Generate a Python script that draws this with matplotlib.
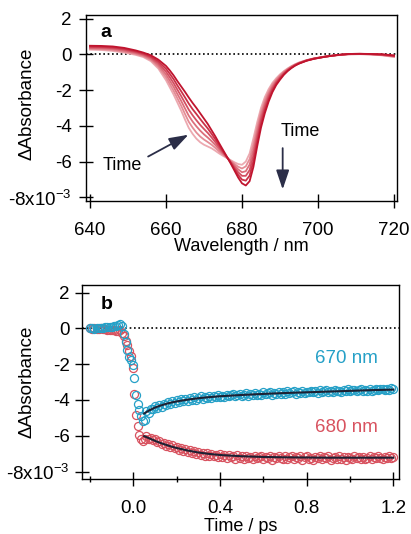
import numpy as np
import matplotlib
matplotlib.use("Agg")
import matplotlib.pyplot as plt

plt.rcParams['font.family'] = ['Liberation Sans', 'DejaVu Sans']
plt.rcParams['mathtext.fontset'] = 'custom'
plt.rcParams['mathtext.rm'] = 'Liberation Sans'
plt.rcParams['font.size'] = 13

# ---------------- Panel a data: transient spectra ----------------
wavelength = [640, 643, 646, 649, 652, 654, 656, 658,
              660, 661, 662, 663, 664, 665, 666, 667, 668, 669, 670, 671, 672, 673, 674, 675,
              676, 677, 678, 679, 680, 681, 682, 683, 684, 685, 686, 687, 688, 689, 690, 691,
              692, 693, 694, 695, 697, 699, 702, 705, 708, 711, 714, 717, 720]

spec1 = [0.26, 0.24, 0.19, 0.10, -0.03, -0.15, -0.38, -0.80,
         -1.45, -1.85, -2.25, -2.70, -3.15, -3.65, -4.12, -4.45, -4.72, -4.92, -5.06, -5.16, -5.26, -5.40, -5.55, -5.68,
         -5.80, -5.92, -6.04, -6.14, -6.18, -6.00, -5.55, -4.70, -3.80, -3.00, -2.40, -1.95, -1.60, -1.34, -1.12, -0.94,
         -0.79, -0.66, -0.55, -0.46, -0.32, -0.22, -0.12, -0.05, 0.00, 0.01, -0.01, -0.06, -0.15]
spec2 = [0.30, 0.29, 0.24, 0.15, 0.02, -0.10, -0.31, -0.70,
         -1.29, -1.66, -2.04, -2.46, -2.88, -3.34, -3.78, -4.10, -4.38, -4.60, -4.77, -4.91, -5.06, -5.24, -5.44, -5.61,
         -5.78, -5.96, -6.13, -6.29, -6.39, -6.27, -5.86, -5.02, -4.07, -3.22, -2.58, -2.09, -1.70, -1.42, -1.18, -0.98,
         -0.82, -0.68, -0.57, -0.47, -0.33, -0.23, -0.12, -0.05, 0.00, 0.01, 0.00, -0.05, -0.13]
spec3 = [0.35, 0.33, 0.29, 0.20, 0.07, -0.05, -0.25, -0.60,
         -1.13, -1.47, -1.82, -2.22, -2.61, -3.03, -3.44, -3.76, -4.03, -4.27, -4.48, -4.66, -4.86, -5.08, -5.32, -5.55,
         -5.77, -5.99, -6.22, -6.44, -6.60, -6.54, -6.17, -5.34, -4.34, -3.44, -2.76, -2.23, -1.81, -1.49, -1.24, -1.02,
         -0.85, -0.70, -0.58, -0.48, -0.34, -0.23, -0.12, -0.05, 0.01, 0.02, 0.00, -0.04, -0.11]
spec4 = [0.39, 0.38, 0.34, 0.26, 0.12, 0.00, -0.18, -0.50,
         -0.97, -1.28, -1.61, -1.98, -2.34, -2.72, -3.10, -3.41, -3.69, -3.95, -4.18, -4.40, -4.65, -4.92, -5.21, -5.48,
         -5.75, -6.03, -6.32, -6.60, -6.80, -6.80, -6.48, -5.66, -4.61, -3.66, -2.94, -2.37, -1.91, -1.57, -1.30, -1.07,
         -0.88, -0.73, -0.60, -0.50, -0.34, -0.24, -0.13, -0.04, 0.01, 0.02, 0.01, -0.02, -0.10]
spec5 = [0.44, 0.42, 0.39, 0.31, 0.17, 0.05, -0.12, -0.40,
         -0.81, -1.09, -1.39, -1.74, -2.07, -2.41, -2.76, -3.07, -3.34, -3.62, -3.89, -4.15, -4.45, -4.76, -5.09, -5.42,
         -5.74, -6.06, -6.41, -6.75, -7.01, -7.07, -6.79, -5.98, -4.88, -3.88, -3.12, -2.51, -2.02, -1.64, -1.36, -1.11,
         -0.91, -0.75, -0.61, -0.51, -0.35, -0.24, -0.13, -0.04, 0.02, 0.03, 0.01, -0.01, -0.08]
spec6 = [0.48, 0.47, 0.44, 0.36, 0.22, 0.10, -0.05, -0.30,
         -0.65, -0.90, -1.18, -1.50, -1.80, -2.10, -2.42, -2.72, -3.00, -3.30, -3.60, -3.90, -4.25, -4.60, -4.98, -5.35,
         -5.72, -6.10, -6.50, -6.90, -7.22, -7.34, -7.10, -6.30, -5.15, -4.10, -3.30, -2.65, -2.12, -1.72, -1.42, -1.15,
         -0.94, -0.77, -0.63, -0.52, -0.36, -0.25, -0.13, -0.04, 0.02, 0.03, 0.02, 0.00, -0.06]
spectra = [spec1, spec2, spec3, spec4, spec5, spec6]
spec_colors = ['#eca9b0', '#e48c95', '#dc6f7b', '#d34f61', '#ca3147', '#c0142e']

# ---------------- Panel b data: kinetics ----------------
t_pre = [-0.20, -0.19, -0.18, -0.17, -0.16, -0.15, -0.14, -0.13, -0.12, -0.11, -0.10, -0.09, -0.08, -0.07]
t_drop = [-0.060, -0.052, -0.044, -0.036, -0.028, -0.020, -0.012, -0.004,
          0.004, 0.012, 0.020, 0.028, 0.036, 0.044, 0.052]
t_post = list(np.round(np.arange(0.06, 1.2001, 0.01), 3))
time = t_pre + t_drop + t_post

k670 = [0.00, 0.02, -0.01, 0.03, 0.02, 0.04, 0.03, 0.06, 0.05, 0.08, 0.09, 0.12, 0.15, 0.20,
        0.25, 0.15, -0.30, -0.75, -1.20, -1.60, -1.75, -2.05, -2.75, -3.70, -4.25, -4.55, -4.90, -5.15, -5.10,
        -4.60, -4.70, -4.50, -4.52, -4.35, -4.45, -4.30, -4.38, -4.20, -4.28,
        -4.12, -4.22, -4.05, -4.18, -4.02, -4.12, -3.95, -4.08, -3.92, -4.05,
        -3.90, -4.02, -3.85, -3.98, -3.88, -3.80, -3.95, -3.82, -3.90, -3.76,
        -3.88, -3.78, -3.85, -3.72, -3.86, -3.75, -3.82, -3.70, -3.80, -3.74,
        -3.68, -3.80, -3.72, -3.65, -3.78, -3.70, -3.62, -3.76, -3.66, -3.72,
        -3.60, -3.74, -3.64, -3.70, -3.58, -3.68, -3.62, -3.56, -3.70, -3.60,
        -3.66, -3.54, -3.64, -3.58, -3.68, -3.52, -3.62, -3.57, -3.50, -3.64,
        -3.55, -3.60, -3.48, -3.62, -3.53, -3.58, -3.47, -3.56, -3.52, -3.60,
        -3.46, -3.55, -3.50, -3.44, -3.57, -3.49, -3.53, -3.43, -3.52, -3.47,
        -3.55, -3.44, -3.50, -3.40, -3.52, -3.46, -3.42, -3.50, -3.45, -3.38,
        -3.49, -3.43, -3.47, -3.39, -3.48, -3.42, -3.36, -3.46, -3.41, -3.38,
        -3.44, -3.37, -3.42, -3.35, -3.40]
k680 = [0.00, -0.02, 0.01, -0.01, -0.03, 0.00, -0.04, -0.05, -0.08, -0.07, -0.10, -0.12, -0.15, -0.14,
        -0.10, -0.25, -0.40, -0.70, -0.95, -1.25, -1.55, -2.20, -3.65, -4.85, -5.45, -5.95, -6.20, -6.30, -6.20,
        -6.00, -6.15, -6.10, -6.25, -6.18, -6.35, -6.28, -6.45, -6.38, -6.55,
        -6.48, -6.62, -6.52, -6.70, -6.60, -6.78, -6.66, -6.85, -6.72, -6.90,
        -6.80, -6.95, -6.85, -7.02, -6.90, -7.08, -6.94, -7.10, -6.98, -7.15,
        -7.00, -7.12, -7.05, -7.18, -7.02, -7.20, -7.08, -7.25, -7.06, -7.18,
        -7.12, -7.28, -7.08, -7.22, -7.15, -7.30, -7.10, -7.24, -7.16, -7.32,
        -7.12, -7.26, -7.18, -7.10, -7.30, -7.16, -7.24, -7.12, -7.34, -7.18,
        -7.26, -7.12, -7.22, -7.32, -7.14, -7.28, -7.20, -7.10, -7.30, -7.18,
        -7.24, -7.14, -7.34, -7.20, -7.12, -7.28, -7.22, -7.36, -7.16, -7.26,
        -7.12, -7.30, -7.20, -7.26, -7.14, -7.34, -7.22, -7.18, -7.30, -7.12,
        -7.28, -7.20, -7.36, -7.16, -7.24, -7.30, -7.14, -7.26, -7.20, -7.32,
        -7.16, -7.28, -7.22, -7.12, -7.30, -7.18, -7.26, -7.14, -7.24, -7.32,
        -7.18, -7.26, -7.12, -7.22, -7.16]

t_fit = [0.05, 0.075, 0.10, 0.125, 0.15, 0.175, 0.20, 0.25, 0.30, 0.35, 0.40, 0.50, 0.60,
         0.70, 0.80, 0.90, 1.00, 1.10, 1.20]
fit670 = [-4.75, -4.57, -4.42, -4.31, -4.22, -4.14, -4.08, -3.98, -3.90, -3.84, -3.79, -3.72, -3.66,
          -3.61, -3.57, -3.53, -3.49, -3.45, -3.42]
fit680 = [-6.02, -6.15, -6.28, -6.40, -6.50, -6.60, -6.68, -6.82, -6.93, -7.01, -7.07, -7.14, -7.18,
          -7.20, -7.21, -7.22, -7.22, -7.22, -7.22]

c670 = '#25a0c7'
c680 = '#d8525f'
arrow_c = '#2b2e48'

yticks = [2, 0, -2, -4, -6, -8]
ytick_labels = ['2', '0', '-2', '-4', '-6', r'-8x10$^{\mathregular{-3}}$']

fig = plt.figure(figsize=(4.11, 5.34), dpi=100)

# ---------------- Panel a ----------------
ax1 = fig.add_axes([0.2092, 0.6242, 0.7560, 0.3477])
ax1.axhline(0, color='black', lw=1.2, ls=(0, (1, 1.6)), zorder=1)
for s, c in zip(spectra, spec_colors):
    ax1.plot(wavelength, s, color=c, lw=1.3, zorder=2)
ax1.set_xlim(638.95, 720.7)
ax1.set_ylim(-8.19, 2.2)
ax1.set_xticks([640, 660, 680, 700, 720])
ax1.set_yticks(yticks)
ax1.set_yticklabels(ytick_labels)
ax1.set_xlabel('Wavelength / nm', labelpad=-0.5, fontsize=13)
ax1.set_ylabel('ΔAbsorbance', fontsize=13.5)
ax1.yaxis.set_label_coords(-0.161, 0.52)
ax1.text(0.064, 0.905, 'a', transform=ax1.transAxes, fontweight='bold',
         ha='center', va='center', fontsize=14)
ax1.text(643.2, -6.2, 'Time', ha='left', va='center', fontsize=13)
ax1.annotate('', xy=(665.9, -4.5), xytext=(655.3, -5.72),
             arrowprops=dict(arrowstyle='-|>,head_length=0.65,head_width=0.22',
                             color=arrow_c, lw=1.3, mutation_scale=18,
                             shrinkA=0, shrinkB=0))
ax1.text(690.2, -4.3, 'Time', ha='left', va='center', fontsize=13)
ax1.annotate('', xy=(690.7, -7.56), xytext=(690.7, -5.25),
             arrowprops=dict(arrowstyle='-|>,head_length=0.65,head_width=0.22',
                             color=arrow_c, lw=1.3, mutation_scale=18,
                             shrinkA=0, shrinkB=0))

# ---------------- Panel b ----------------
ax2 = fig.add_axes([0.2002, 0.1030, 0.7706, 0.3633])
ax2.axhline(0, color='black', lw=1.2, ls=(0, (1, 1.6)), zorder=1)
ax2.plot(time, k680, 'o', mfc='none', mec=c680, ms=5.8, mew=0.9, zorder=2)
ax2.plot(time, k670, 'o', mfc='none', mec=c670, ms=5.8, mew=0.9, zorder=3)
ax2.plot(t_fit, fit670, color='#1d2133', lw=1.5, zorder=4)
ax2.plot(t_fit, fit680, color='#1d2133', lw=1.5, zorder=4)
ax2.set_xlim(-0.236, 1.226)
ax2.set_ylim(-8.41, 2.42)
ax2.set_xticks([0.0, 0.4, 0.8, 1.2])
ax2.set_xticklabels(['0.0', '0.4', '0.8', '1.2'])
ax2.set_xticks([-0.2, 0.2, 0.6, 1.0], minor=True)
ax2.set_yticks(yticks)
ax2.set_yticklabels(ytick_labels)
ax2.set_xlabel('Time / ps', labelpad=0.5, fontsize=13)
ax2.set_ylabel('ΔAbsorbance', fontsize=13.5)
ax2.yaxis.set_label_coords(-0.148, 0.50)
ax2.text(0.078, 0.897, 'b', transform=ax2.transAxes, fontweight='bold',
         ha='center', va='center', fontsize=14)
ax2.text(1.13, -1.7, '670 nm', color=c670, ha='right', va='center', fontsize=13.5)
ax2.text(1.13, -5.55, '680 nm', color=c680, ha='right', va='center', fontsize=13.5)

for ax, ypad in ((ax1, 5.4), (ax2, 4.4)):
    for sp in ax.spines.values():
        sp.set_linewidth(1.0)
    ax.tick_params(axis='y', which='major', direction='inout', length=9.5, width=1.0,
                   pad=ypad, labelsize=13.5)
    ax.tick_params(axis='x', which='major', direction='inout', length=10, width=1.0,
                   pad=10, labelsize=13.5)
    ax.tick_params(axis='x', which='minor', direction='inout', length=5, width=1.0)

fig.savefig('out.png', dpi=100)
